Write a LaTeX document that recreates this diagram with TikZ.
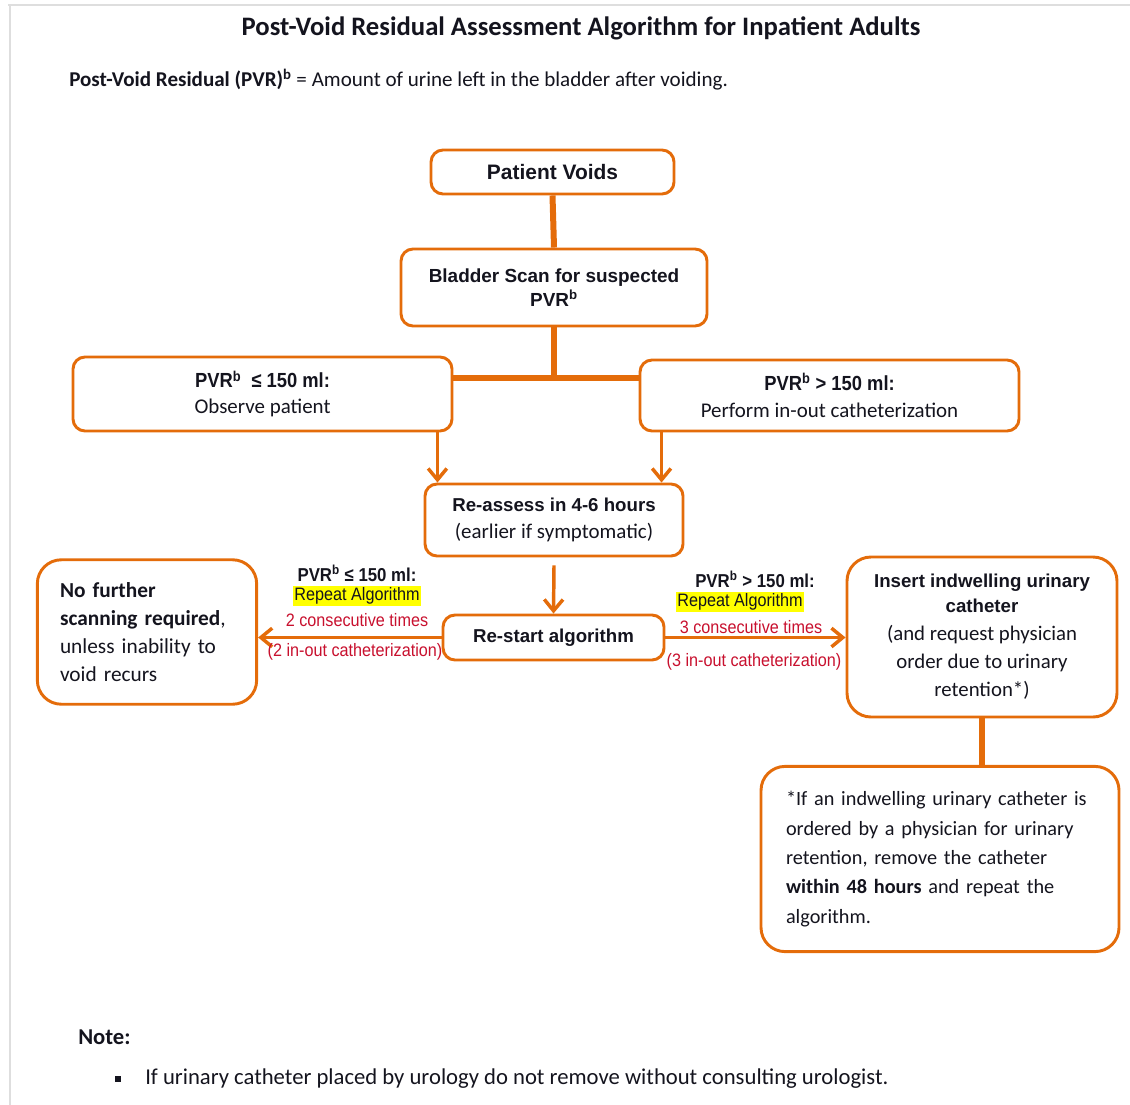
\documentclass[tikz,border=0pt]{standalone}
\usepackage{fontspec}
\setmainfont{Carlito}
\newfontfamily\arl{Liberation Sans}
\newfontfamily\arn[FakeStretch=0.9]{Liberation Sans}
\newfontfamily\carl{Carlito}
\usetikzlibrary{arrows.meta,calc}
\definecolor{org}{RGB}{228,108,10}
\definecolor{redtxt}{RGB}{200,16,46}
\definecolor{hl}{RGB}{255,255,0}
\definecolor{ink}{RGB}{20,20,30}
\definecolor{frame}{RGB}{222,222,222}
\tikzset{
  box/.style={draw=org, line width=2.2pt, rounded corners=9pt, fill=white, text=ink, align=center, inner sep=2pt},
  bigbox/.style={box, rounded corners=18pt},
  conn/.style={draw=org, line width=4.5pt},
  arr/.style={draw=org, line width=2.6pt, -{Straight Barb[length=8.5pt,width=14pt]}},
  lab/.style={inner sep=1pt, text=ink, font=\arn\bfseries\fontsize{14}{16}\selectfont},
  hlab/.style={inner sep=1.2pt, fill=hl, text=ink, font=\arn\fontsize{13.5}{15}\selectfont},
  redlab/.style={inner sep=1pt, text=redtxt, font=\arn\fontsize{13.5}{15}\selectfont},
  plain/.style={inner sep=0pt, text=ink, anchor=west},
}
\begin{document}
\begin{tikzpicture}[x=0.75pt,y=-0.75pt]
\useasboundingbox (0,0) rectangle (1130,1105);
\draw[frame, line width=1pt] (8,5) -- (1130,5);
\draw[frame, line width=1pt] (10,5) -- (10,1105);

% texts at top
\node[text=ink, inner sep=0pt, font=\carl\bfseries\fontsize{20}{22}\selectfont] (title) at (581,28) {Post-Void Residual Assessment Algorithm for Inpatient Adults};
\node[plain, font=\carl\fontsize{15.8}{18}\selectfont] (sub) at (69,80) {\textbf{Post-Void Residual (PVR)\textsuperscript{b}} = Amount of urine left in the bladder after voiding.};

% boxes
\node[box, minimum width=182.25pt, minimum height=33pt, font=\arl\bfseries\fontsize{15.7}{18}\selectfont] (pv) at (552.5,172) {Patient Voids};
\node[box, minimum width=229.5pt, minimum height=57.75pt, font=\arl\bfseries\fontsize{14.2}{18}\selectfont] (bs) at (554,287.5) {Bladder Scan for suspected\\PVR\textsuperscript{b}};
\node[box, minimum width=284.25pt, minimum height=55.5pt, font=\carl\fontsize{15.7}{19.5}\selectfont] (lo) at (262.5,394) {{\arn\bfseries\fontsize{15.3}{17}\selectfont PVR\textsuperscript{b}\ \ ≤ 150 ml:}\\Observe patient};
\node[box, minimum width=284.25pt, minimum height=53.25pt, font=\carl\fontsize{15.7}{20.25}\selectfont] (hi) at (829.5,395.5) {{\arn\bfseries\fontsize{15.3}{17}\selectfont PVR\textsuperscript{b} > 150 ml:}\\Perform in-out catheterization};
\node[box, minimum width=193.5pt, minimum height=54pt, font=\carl\fontsize{15.7}{20.25}\selectfont] (ra) at (554,520) {{\arl\bfseries\fontsize{14}{17}\selectfont Re-assess in 4-6 hours}\\(earlier if symptomatic)};
\node[box, minimum width=165.75pt, minimum height=33.75pt, font=\arl\bfseries\fontsize{14}{17}\selectfont] (rs) at (553.5,637.5) {Re-start algorithm};
\node[bigbox, align=left, text width=130.5pt, minimum height=99pt, inner sep=17pt, font=\carl\fontsize{16}{21}\selectfont] (nf) at (147,632) {\textbf{No further}\\\textbf{scanning required},\\unless inability to\\void recurs};
\node[bigbox, minimum width=202.5pt, minimum height=120pt, font=\carl\fontsize{15.6}{21}\selectfont] (ins) at (982,637) {{\arl\bfseries\fontsize{14}{17}\selectfont Insert indwelling urinary}\\[-2.25pt]{\arl\bfseries\fontsize{14}{17}\selectfont catheter}\\(and request physician\\order due to urinary\\retention*)};
\node[bigbox, align=left, text width=231pt, minimum height=136.5pt, inner sep=18.75pt, font=\carl\fontsize{15.2}{22}\selectfont] (fn) at (940,859) {*If an indwelling urinary catheter is\\ordered by a physician for urinary\\retention, remove the catheter\\\textbf{within 48 hours} and repeat the\\algorithm.};

% connectors
\coordinate (j) at (554,378);
\draw[conn] (pv.south) -- (bs.north);
\draw[conn] (bs.south) -- (j);
\draw[conn] (j -| lo.east) -- (j -| hi.west);
\draw[arr] ([xshift=-12pt]lo.south east) -- ([xshift=-12pt]lo.south east |- ra.north);
\draw[arr] ([xshift=17.25pt]hi.south west) -- ([xshift=17.25pt]hi.south west |- ra.north);
\draw[arr] ([yshift=-6pt]ra.south) -- (rs.north);
\draw[arr] (rs.west) -- (rs.west -| nf.east);
\draw[arr] (rs.east) -- (rs.east -| ins.west);
\draw[conn] (ins.south) -- (ins.south |- fn.north);

% labels on the arrows
\node[lab] (l1) at (357,573) {PVR\textsuperscript{b} ≤ 150 ml:};
\node[hlab] (l2) at (357,596) {Repeat Algorithm};
\node[redlab] (l3) at (357,620) {2 consecutive times};
\node[redlab] (l4) at (355,652) {(2 in-out catheterization)};
\node[lab] (r1) at (755,579) {PVR\textsuperscript{b} > 150 ml:};
\node[hlab] (r2) at (740,602) {Repeat Algorithm};
\node[redlab] (r3) at (751,627) {3 consecutive times};
\node[redlab] (r4) at (754,662) {(3 in-out catheterization)};

% note
\node[plain, font=\carl\bfseries\fontsize{17}{19}\selectfont] (note) at (78,1037) {Note:};
\node[fill=ink, minimum size=4.5pt, inner sep=0pt] (bul) at (118,1079) {};
\node[plain, font=\carl\fontsize{17}{19}\selectfont] (ntext) at (145,1079) {If urinary catheter placed by urology do not remove without consulting urologist.};
\end{tikzpicture}
\end{document}
